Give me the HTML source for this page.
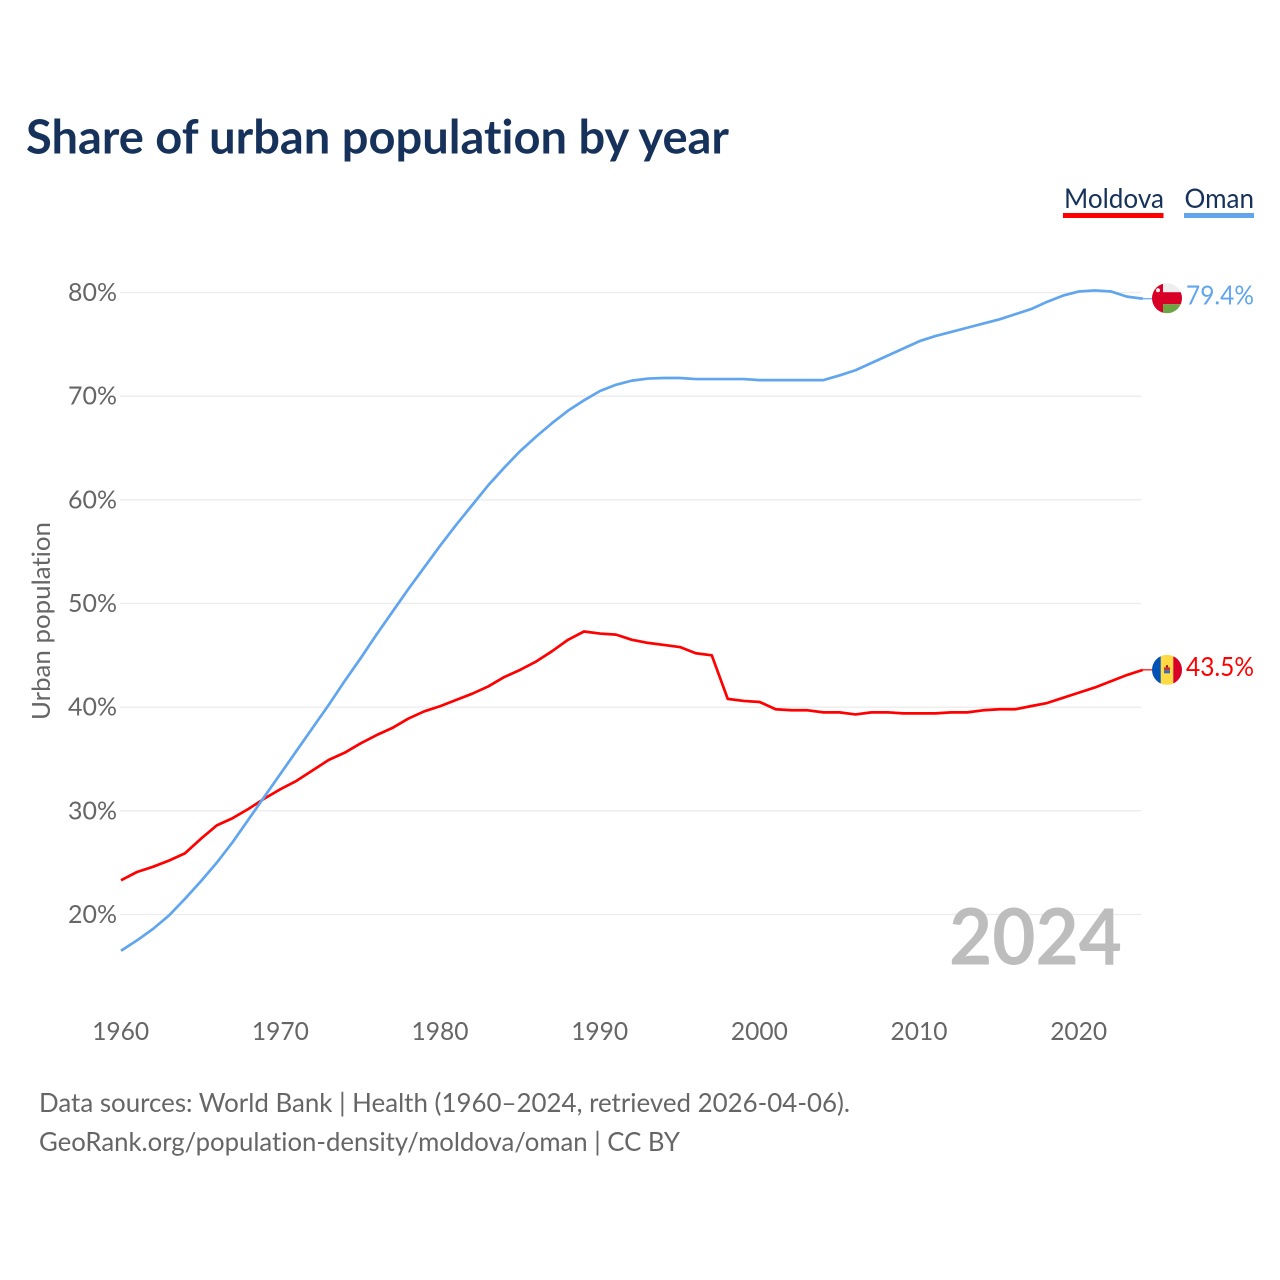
<!DOCTYPE html>
<html lang="en">
<head>
<meta charset="utf-8">
<title>Share of urban population by year</title>
<style>
html,body{margin:0;padding:0;background:#fff;width:1280px;height:1280px;overflow:hidden}
svg{display:block}
text{font-family:"Lato","Carlito","Liberation Sans",sans-serif;font-variant-ligatures:none}
</style>
</head>
<body>
<svg id="chart" width="1280" height="1280" viewBox="0 0 1280 1280" xmlns="http://www.w3.org/2000/svg">
  <defs>
    <clipPath id="flag-clip"><circle cx="0" cy="0" r="15"></circle></clipPath>
  </defs>
  <text x="26" y="153.5" font-size="46.5" font-weight="700" fill="#17325a" textLength="703" lengthAdjust="spacingAndGlyphs">Share of urban population by year</text>

  <g id="grid"></g>
  <g id="yticks"></g>
  <g id="xticks"></g>

  <text transform="translate(50,621) rotate(-90)" text-anchor="middle" font-size="25.5" fill="#666" textLength="198" lengthAdjust="spacingAndGlyphs">Urban population</text>

  <text x="949" y="964.5" font-size="78" font-weight="700" fill="#bdbdbd" textLength="173" lengthAdjust="spacingAndGlyphs">2024</text>

  <g id="series"></g>

  <g id="flag-oman" clip-path="url(#flag-clip)">
    <rect x="-15" y="-15" width="30" height="30" fill="#eeeeee"></rect>
    <rect x="-15" y="-15" width="11" height="30" fill="#d80027"></rect>
    <rect x="-4" y="-6" width="19" height="12" fill="#d80027"></rect>
    <rect x="-4" y="6" width="19" height="9" fill="#6da544"></rect>
    <circle cx="-9" cy="-8" r="2" fill="#eeeeee"></circle>
  </g>
  <g id="flag-moldova" clip-path="url(#flag-clip)">
    <rect x="-15" y="-15" width="9" height="30" fill="#0052b4"></rect>
    <rect x="-6.3" y="-15" width="12.6" height="30" fill="#ffda44"></rect>
    <rect x="6.3" y="-15" width="9" height="30" fill="#d80027"></rect>
    <rect x="-3" y="-2.5" width="6" height="3" fill="#c0392b"></rect>
    <rect x="-3" y="0.5" width="6" height="3" fill="#3b6fb0"></rect>
    <circle cx="0" cy="-3.5" r="1.2" fill="#a2001d"></circle>
  </g>

  <text id="label-oman" x="1186" font-size="26.5" fill="#60a5ee" textLength="68" lengthAdjust="spacingAndGlyphs"></text>
  <text id="label-moldova" x="1186" font-size="26.5" fill="#ff0000" textLength="68" lengthAdjust="spacingAndGlyphs"></text>

  <g>
    <g>
      <text x="1064" y="208" font-size="27" fill="#17325a" textLength="100" lengthAdjust="spacingAndGlyphs">Moldova</text>
      <rect x="1063" y="213" width="100.5" height="5" fill="#ff0000"></rect>
    </g>
    <g>
      <text x="1184.5" y="208" font-size="27" fill="#17325a" textLength="69.5" lengthAdjust="spacingAndGlyphs">Oman</text>
      <rect x="1184" y="213" width="70" height="5" fill="#60a5ee"></rect>
    </g>
  </g>

  <text x="39" y="1112" font-size="26.5" fill="#666" textLength="811" lengthAdjust="spacingAndGlyphs">Data sources: World Bank | Health (1960–2024, retrieved 2026-04-06).</text>
  <text x="39" y="1151" font-size="26.5" fill="#666" textLength="641" lengthAdjust="spacingAndGlyphs">GeoRank.org/population-density/moldova/oman | CC BY</text>
</svg>
<script>
const startYear = 1960;
const yTickValues = [20, 30, 40, 50, 60, 70, 80];
const xTickValues = [1960, 1970, 1980, 1990, 2000, 2010, 2020];
const moldovaValues = [23.3,24.1,24.6,25.2,25.9,27.3,28.6,29.3,30.2,31.2,32.1,32.9,33.9,34.9,35.6,36.5,37.3,38.0,38.9,39.6,40.1,40.7,41.3,42.0,42.9,43.6,44.4,45.4,46.5,47.3,47.1,47.0,46.5,46.2,46.0,45.8,45.2,45.0,40.8,40.6,40.5,39.8,39.7,39.7,39.5,39.5,39.3,39.5,39.5,39.4,39.4,39.4,39.5,39.5,39.7,39.8,39.8,40.1,40.4,40.9,41.4,41.9,42.5,43.1,43.6];
const omanValues = [16.5,17.5,18.6,19.9,21.5,23.2,25.0,27.0,29.2,31.4,33.6,35.8,38.0,40.2,42.5,44.7,47.0,49.2,51.4,53.5,55.6,57.6,59.5,61.4,63.1,64.7,66.1,67.4,68.6,69.6,70.5,71.1,71.5,71.7,71.75,71.75,71.65,71.65,71.65,71.65,71.55,71.55,71.55,71.55,71.55,72.0,72.5,73.2,73.9,74.6,75.3,75.8,76.2,76.6,77.0,77.4,77.9,78.4,79.1,79.7,80.1,80.2,80.1,79.6,79.4];
const moldovaLabel = 43.5;
const omanLabel = 79.4;

const NS = 'http://www.w3.org/2000/svg';
const xScale = function (year) { return 121 + (year - 1960) * (1079 - 121) / 60; };
const yScale = function (pct) { return 914.5 - (pct - 20) * (914.5 - 292.5) / 60; };

function make(tag, parent) {
  const el = document.createElementNS(NS, tag);
  parent.appendChild(el);
  return el;
}

const grid = document.getElementById('grid');
const yticks = document.getElementById('yticks');
yTickValues.forEach(function (v) {
  const line = make('line', grid);
  
  
  line.setAttribute('x1', 120);
  line.setAttribute('x2', 1141);
  line.setAttribute('y1', yScale(v));
  line.setAttribute('y2', yScale(v));
  line.setAttribute('stroke', '#ececec');
  line.setAttribute('stroke-width', '1.3');
  const t = make('text', yticks);
  
  
  t.setAttribute('x', 68);
  t.setAttribute('y', yScale(v) + 8.5);
  t.setAttribute('font-size', '25.5');
  t.setAttribute('fill', '#666');
  t.setAttribute('textLength', '49');
  t.setAttribute('lengthAdjust', 'spacingAndGlyphs');
  t.textContent = v + '%';
});

const xticks = document.getElementById('xticks');
xTickValues.forEach(function (y) {
  const t = make('text', xticks);
  
  
  t.setAttribute('x', xScale(y) - 28.8);
  t.setAttribute('y', 1040);
  t.setAttribute('font-size', '25.5');
  t.setAttribute('fill', '#666');
  t.setAttribute('textLength', '57');
  t.setAttribute('lengthAdjust', 'spacingAndGlyphs');
  t.textContent = String(y);
});

const seriesGroup = document.getElementById('series');
function drawSeries(values, color, name) {
  const pts = values.map(function (v, i) {
    return xScale(startYear + i).toFixed(2) + ',' + yScale(v).toFixed(2);
  }).join(' ');
  const line = make('polyline', seriesGroup);
  
  
  line.setAttribute('points', pts);
  line.setAttribute('fill', 'none');
  line.setAttribute('stroke', color);
  line.setAttribute('stroke-width', '2.7');
  line.setAttribute('stroke-linejoin', 'round');
  const lastY = yScale(values[values.length - 1]);
  const lastX = xScale(startYear + values.length - 1);
  const leader = make('line', seriesGroup);
  
  
  leader.setAttribute('x1', lastX);
  leader.setAttribute('x2', 1153);
  leader.setAttribute('y1', lastY);
  leader.setAttribute('y2', lastY);
  leader.setAttribute('stroke', color);
  leader.setAttribute('stroke-width', '1.2');
  return lastY;
}
const moldovaEndY = drawSeries(moldovaValues, '#ff0000', 'moldova-line');
const omanEndY = drawSeries(omanValues, '#60a5ee', 'oman-line');

document.getElementById('flag-oman').setAttribute('transform', 'translate(1167,' + (omanEndY - 0.5) + ')');
document.getElementById('flag-moldova').setAttribute('transform', 'translate(1167,' + (moldovaEndY) + ')');

const labelOman = document.getElementById('label-oman');
labelOman.setAttribute('y', omanEndY + 6);
labelOman.textContent = omanLabel.toFixed(1) + '%';
const labelMoldova = document.getElementById('label-moldova');
labelMoldova.setAttribute('y', moldovaEndY + 6);
labelMoldova.textContent = moldovaLabel.toFixed(1) + '%';
</script>
</body>
</html>
